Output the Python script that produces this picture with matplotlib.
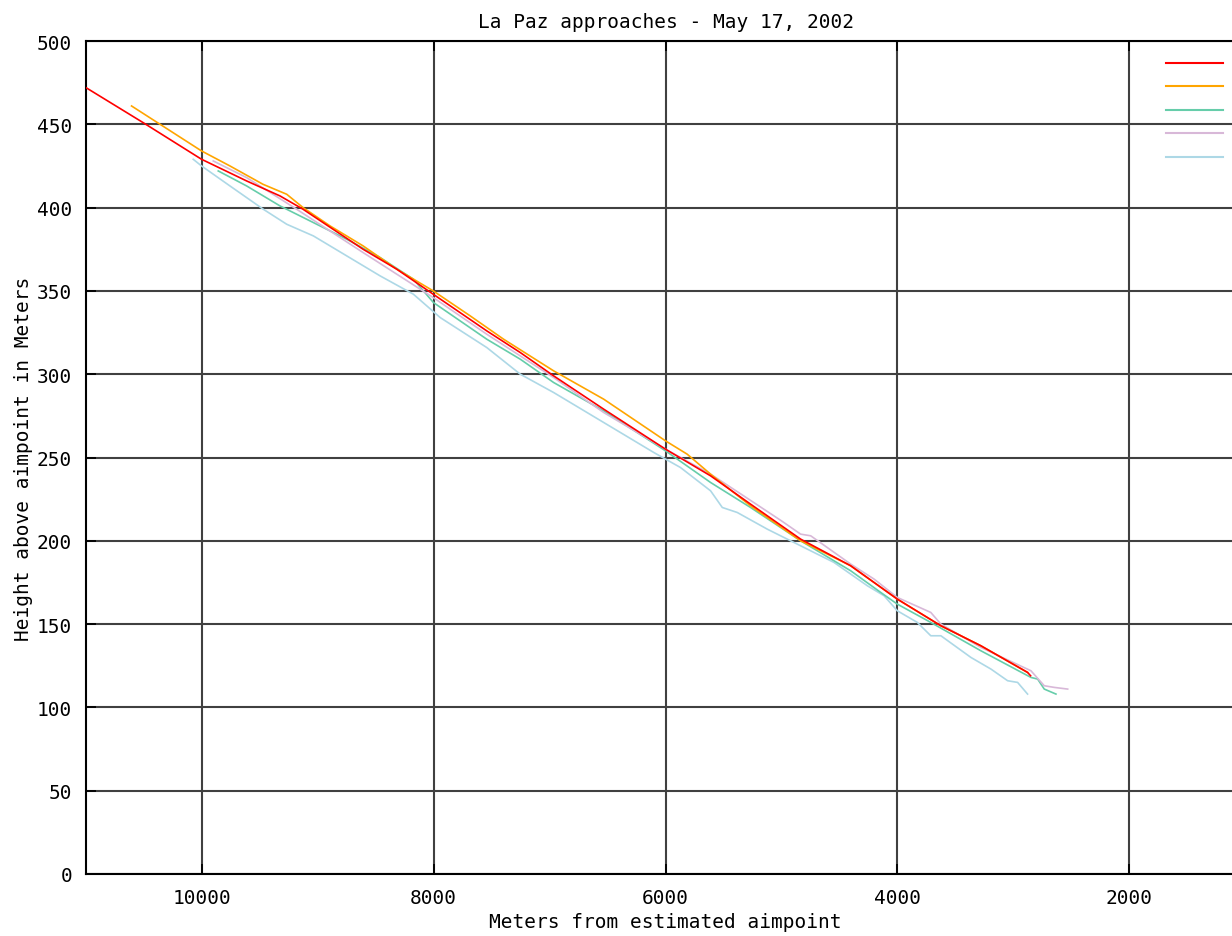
import matplotlib
matplotlib.use("Agg")
import matplotlib.pyplot as plt
from matplotlib.lines import Line2D

matplotlib.rcParams.update({
    "font.family": "DejaVu Sans Mono",
    "font.size": 14,
    "axes.linewidth": 1.5,
})

# approach profiles: distance from aimpoint (m) vs height above aimpoint (m)
red_x = [11000, 10507, 10003, 9614, 9326, 9127, 8609, 8318, 8004, 7542, 7253,
         6965, 6533, 6000, 5611, 5266, 4834, 4402, 4000, 3624, 3279, 2876, 2850]
red_y = [472, 451, 429, 416, 407, 399, 375, 363, 348, 326, 313,
         299, 279, 255, 239, 222, 201, 185, 165, 149, 137, 121, 119]

orange_x = [10607, 10003, 9758, 9473, 9268, 9127, 8894, 8609, 8318, 8004, 7685,
            7397, 6965, 6533, 6000, 5813, 5611, 5266, 4834, 4402, 4000, 3624,
            3279, 2876]
orange_y = [461, 434, 425, 414, 408, 400, 389, 377, 363, 350, 335,
            321, 302, 285, 260, 252, 240, 221, 200, 185, 165, 149,
            137, 121]

green_x = [9859, 9614, 9326, 9038, 8750, 8462, 8175, 8002, 7542, 7253, 6965,
           6533, 6000, 5611, 5266, 4834, 4402, 4143, 4000, 3711, 3279, 2847,
           2789, 2732, 2631]
green_y = [422, 413, 401, 391, 381, 370, 357, 343, 321, 309, 295,
           278, 254, 235, 220, 200, 182, 169, 162, 151, 134, 118,
           117, 111, 108]

plum_x = [9902, 9614, 9182, 8609, 8004, 7542, 6965, 6533, 6000, 5611, 5326,
          5000, 4834, 4747, 4402, 4200, 4000, 3711, 3624, 3279, 2847, 2732,
          2645, 2530]
plum_y = [428, 418, 399, 373, 346, 324, 298, 277, 255, 240, 227,
          212, 204, 203, 186, 177, 166, 157, 150, 136, 122, 113,
          112, 111]

blue_x = [10075, 10003, 9758, 9470, 9268, 9038, 8750, 8462, 8175, 7944, 7542,
          7253, 6965, 6533, 6101, 5871, 5611, 5510, 5381, 5122, 4834, 4546,
          4258, 4114, 4000, 3827, 3711, 3624, 3365, 3192, 3048, 2962, 2876]
blue_y = [429, 425, 413, 399, 390, 383, 371, 359, 348, 334, 316,
          300, 289, 271, 253, 244, 230, 220, 217, 207, 197, 187,
          173, 167, 158, 151, 143, 143, 130, 123, 116, 115, 108]

SERIES = [
    (red_x, red_y, "#ff0000", 6),
    (orange_x, orange_y, "#ffa500", 5),
    (green_x, green_y, "#66cdaa", 3),
    (plum_x, plum_y, "#d8b8d8", 4),
    (blue_x, blue_y, "#add8e6", 2),
]

x_ticks = [10000, 8000, 6000, 4000, 2000]
y_ticks = list(range(0, 501, 50))

fig = plt.figure(figsize=(12.32, 9.37), dpi=100)
# plot box runs a little past the right edge of the canvas
ax = fig.add_axes([86 / 1232, 62 / 937, 1159 / 1232, 833 / 937])

handles = []
for xs, ys, color, z in SERIES:
    ax.plot(xs, ys, color=color, linewidth=1.2, zorder=z)
    handles.append(Line2D([], [], color=color, linewidth=1.5))

ax.set_xlim(11000, 1000)
ax.set_ylim(0, 500)
ax.set_xticks(x_ticks)
ax.set_yticks(y_ticks)
ax.grid(True, color="#404040", linewidth=1.5)
ax.set_axisbelow(True)
ax.tick_params(direction="in", length=7, width=1.3, top=True, right=False,
               labelsize=14, pad=10)
ax.spines["right"].set_visible(False)

ax.set_title("La Paz approaches - May 17, 2002", fontsize=14, pad=10)
ax.set_xlabel("Meters from estimated aimpoint", fontsize=14, labelpad=4)
ax.set_ylabel("Height above aimpoint in Meters", fontsize=14, labelpad=3)

# key without titles: just the line samples
ax.legend(handles, [""] * len(handles), loc="upper right",
          bbox_to_anchor=((1223 - 86) / 1159, 0.9814), borderaxespad=0,
          borderpad=0, frameon=False, fontsize=10, handlelength=4.1,
          handletextpad=0, labelspacing=0.69)

fig.savefig("out.png", dpi=100)
